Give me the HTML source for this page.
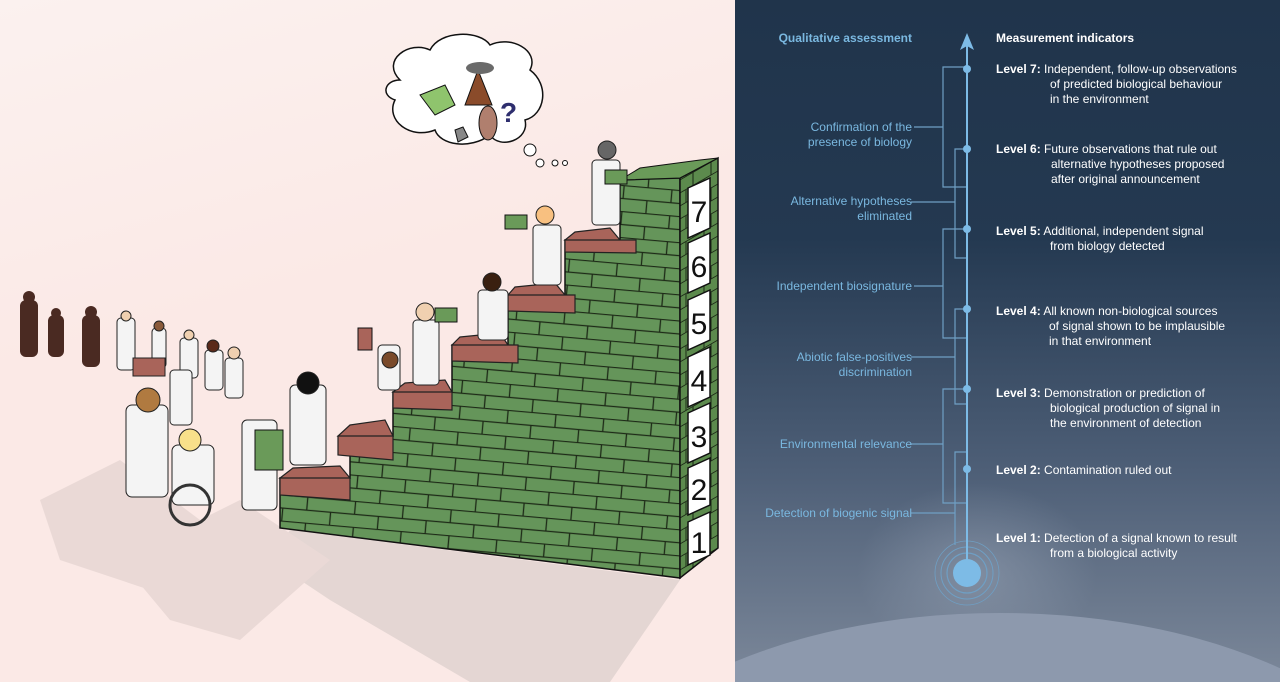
<!DOCTYPE html>
<html><head><meta charset="utf-8"><style>
html,body{margin:0;padding:0;width:1280px;height:682px;overflow:hidden;background:#fff}
svg{display:block;position:absolute;left:0;top:0}
text{font-family:"Liberation Sans",sans-serif}
</style></head><body>
<svg width="1280" height="682" viewBox="0 0 1280 682" xmlns="http://www.w3.org/2000/svg" overflow="hidden">
<defs>
<clipPath id="rc"><rect x="735" y="0" width="545" height="682"/></clipPath>
<clipPath id="lc"><rect x="0" y="0" width="735" height="682"/></clipPath>
<linearGradient id="lbg" x1="0" y1="0" x2="0.3" y2="1">
<stop offset="0" stop-color="#fbf1ef"/><stop offset="0.5" stop-color="#fbe9e6"/><stop offset="1" stop-color="#fbe9e6"/>
</linearGradient>
<linearGradient id="rbg" x1="0" y1="0" x2="0" y2="1">
<stop offset="0" stop-color="#20344b"/><stop offset="0.35" stop-color="#243951"/><stop offset="0.7" stop-color="#4f6078"/><stop offset="1" stop-color="#7c889a"/>
</linearGradient>
<radialGradient id="glow" cx="0.5" cy="0.5" r="0.5">
<stop offset="0" stop-color="#9aa6b8" stop-opacity="0.5"/><stop offset="1" stop-color="#9aa6b8" stop-opacity="0"/>
</radialGradient>
<pattern id="brick" width="48" height="26" patternUnits="userSpaceOnUse" patternTransform="rotate(5)">
<rect width="48" height="26" fill="#65955a"/>
<path d="M0 0.5H48M0 13.5H48M14 0V13M38 13V26" stroke="#1d2a17" stroke-width="1.3" fill="none"/>
</pattern>
<pattern id="brickS" width="18" height="26" patternUnits="userSpaceOnUse" patternTransform="skewY(-30)">
<rect width="18" height="26" fill="#5c8a4d"/>
<path d="M0 0.5H18M0 13.5H18M9 0V13M2 13V26" stroke="#1d2a17" stroke-width="1" fill="none"/>
</pattern>
</defs>
<g clip-path="url(#lc)">
<rect x="0" y="0" width="735" height="682" fill="url(#lbg)"/>
<path d="M290 530 L680 580 L610 682 L470 682 L330 600 L270 560Z" fill="#e4d6d3"/>
<path d="M40 500 L120 460 L200 520 L150 590 L60 560Z M120 560 L240 500 L330 560 L240 640 L170 620Z" fill="#ead9d6"/>
<path d="M280 478 L350 478 L350 436 L393 436 L393 392 L452 392 L452 345 L508 345 L508 295 L565 295 L565 240 L620 240 L620 180 L680 178 L680 578 L280 528Z" fill="url(#brick)" stroke="#111" stroke-width="1.5"/>
<path d="M680 178 L718 158 L718 548 L680 578Z" fill="url(#brickS)" stroke="#111" stroke-width="1.5"/>
<g fill="#a9645a" stroke="#222" stroke-width="1.2">
<path d="M280 478 L350 478 L350 500 L280 495Z M293 468 L340 466 L350 478 L280 478Z"/>
<path d="M338 436 L393 436 L393 460 L338 455Z M350 425 L385 420 L393 436 L338 436Z"/>
<path d="M393 392 L452 392 L452 410 L393 408Z M405 383 L445 380 L452 392 L393 392Z"/>
<path d="M452 345 L518 345 L518 363 L452 361Z M460 337 L500 333 L508 345 L452 345Z"/>
<path d="M508 295 L575 295 L575 313 L508 311Z M515 287 L555 283 L565 295 L508 295Z"/>
<path d="M565 240 L636 240 L636 253 L565 252Z M575 232 L610 228 L620 240 L565 240Z"/>
</g>
<path d="M620 180 L640 168 L700 160 L718 158 L680 178Z" fill="#6a9a59" stroke="#111"/>
<g fill="#fff" stroke="#111" stroke-width="1.5">
<polygon points="688,188 710,178 710,228 688,238"/>
<polygon points="688,243 710,233 710,283 688,293"/>
<polygon points="688,300 710,290 710,340 688,350"/>
<polygon points="688,357 710,347 710,397 688,407"/>
<polygon points="688,413 710,403 710,453 688,463"/>
<polygon points="688,468 710,458 710,505 688,515"/>
<polygon points="688,522 710,512 710,555 688,565"/>
</g>
<g font-size="30" fill="#111" text-anchor="middle" font-family="Liberation Serif">
<text x="699" y="222">7</text><text x="699" y="277">6</text><text x="699" y="334">5</text><text x="699" y="391">4</text><text x="699" y="447">3</text><text x="699" y="500">2</text><text x="699" y="553">1</text>
</g>
<path d="M400 80 C380 60 410 40 430 50 C440 30 480 30 490 45 C510 35 540 50 530 70 C550 85 545 115 525 120 C530 140 500 150 490 135 C470 150 440 145 435 130 C410 140 385 120 395 100 C380 95 385 80 400 80Z" fill="#fff" stroke="#111" stroke-width="1.5"/>
<circle cx="530" cy="150" r="6" fill="#fff" stroke="#111"/><circle cx="540" cy="163" r="4" fill="#fff" stroke="#111"/><circle cx="555" cy="163" r="3" fill="#fff" stroke="#111"/><circle cx="565" cy="163" r="2.5" fill="#fff" stroke="#111"/>
<path d="M420 95 L445 85 L455 105 L435 115Z" fill="#8fc46d" stroke="#111"/>
<path d="M465 105 L478 70 L492 105Z" fill="#8a4b2a" stroke="#111"/>
<ellipse cx="480" cy="68" rx="14" ry="6" fill="#6a6a6a"/>
<ellipse cx="488" cy="123" rx="9" ry="17" fill="#b07f6e" stroke="#111"/>
<path d="M455 130 L463 127 L468 137 L458 142Z" fill="#888" stroke="#111"/>
<text x="500" y="122" font-size="28" font-weight="bold" fill="#2e2e6e">?</text>
<g fill="#4a2a22">
<rect x="20" y="300" width="18" height="57" rx="6"/><circle cx="29" cy="297" r="6"/>
<rect x="48" y="315" width="16" height="42" rx="6"/><circle cx="56" cy="313" r="5"/>
<rect x="82" y="315" width="18" height="52" rx="6"/><circle cx="91" cy="312" r="6"/>
</g>
<g fill="#f4f4f4" stroke="#222" stroke-width="1">
<rect x="117" y="318" width="18" height="52" rx="4"/><circle cx="126" cy="316" r="5" fill="#f0d0b0"/>
<rect x="152" y="328" width="14" height="40" rx="4"/><circle cx="159" cy="326" r="5" fill="#8a5a3a"/>
<rect x="180" y="338" width="18" height="40" rx="4"/><circle cx="189" cy="335" r="5" fill="#f0d0b0"/>
<rect x="205" y="350" width="18" height="40" rx="4"/><circle cx="213" cy="346" r="6" fill="#5a2a1a"/>
<rect x="225" y="358" width="18" height="40" rx="4"/><circle cx="234" cy="353" r="6" fill="#f0d0b0"/>
<rect x="170" y="370" width="22" height="55" rx="4"/>
<rect x="126" y="405" width="42" height="92" rx="6"/><circle cx="148" cy="400" r="12" fill="#b07a40"/>
<rect x="133" y="358" width="32" height="18" fill="#a9645a"/>
<rect x="172" y="445" width="42" height="60" rx="6"/><circle cx="190" cy="440" r="11" fill="#f8e08a"/>
<rect x="242" y="420" width="35" height="90" rx="5"/>
<rect x="290" y="385" width="36" height="80" rx="5"/><circle cx="308" cy="383" r="11" fill="#111"/>
<rect x="378" y="345" width="22" height="45" rx="4"/><circle cx="390" cy="360" r="8" fill="#7a4a2a"/>
<rect x="413" y="320" width="26" height="65" rx="4"/><circle cx="425" cy="312" r="9" fill="#f0d0b0"/>
<rect x="478" y="290" width="30" height="50" rx="4"/><circle cx="492" cy="282" r="9" fill="#3a2010"/>
<rect x="533" y="225" width="28" height="60" rx="4"/><circle cx="545" cy="215" r="9" fill="#f8c080"/>
<rect x="592" y="160" width="28" height="65" rx="4"/><circle cx="607" cy="150" r="9" fill="#666"/>
</g>
<circle cx="190" cy="505" r="20" fill="none" stroke="#333" stroke-width="3"/>
<g fill="#6a9a59" stroke="#111"><rect x="255" y="430" width="28" height="40"/><rect x="505" y="215" width="22" height="14"/><rect x="605" y="170" width="22" height="14"/><rect x="435" y="308" width="22" height="14"/></g>
<rect x="358" y="328" width="14" height="22" fill="#a9645a" stroke="#111"/>
</g>

<g clip-path="url(#rc)">
<rect x="735" y="0" width="545" height="682" fill="url(#rbg)"/>
<ellipse cx="977" cy="573" rx="120" ry="90" fill="url(#glow)"/>
<ellipse cx="1000" cy="830" rx="420" ry="217" fill="#8d99ad"/>
</g>
<g stroke="#6f9fc4" stroke-width="1.2" fill="none">
<path d="M967 67 H943 V187 H967 M914 127 H943"/>
<path d="M967 149 H955 V258 H967 M911 202 H955"/>
<path d="M967 229 H943 V338 H967 M914 286 H943"/>
<path d="M967 309 H955 V404 H967 M911 357 H955"/>
<path d="M967 389 H943 V503 H967 M911 444 H943"/>
<path d="M967 452 H955 V545 M911 513 H955"/>
<circle cx="967" cy="573" r="20"/><circle cx="967" cy="573" r="26" stroke-width="1"/><circle cx="967" cy="573" r="32" stroke-width="0.8"/>
</g>
<line x1="967" y1="45" x2="967" y2="573" stroke="#7dbbe6" stroke-width="2"/>
<path d="M967 33 L960 50 L967 46 L974 50Z" fill="#7dbbe6"/>
<g fill="#7dbbe6"><circle cx="967" cy="69" r="4"/><circle cx="967" cy="149" r="4"/><circle cx="967" cy="229" r="4"/><circle cx="967" cy="309" r="4"/><circle cx="967" cy="389" r="4"/><circle cx="967" cy="469" r="4"/><circle cx="967" cy="573" r="14"/></g>
<g font-size="12" fill="#7ab8e0" text-anchor="end">
<text x="912" y="42" font-weight="bold">Qualitative assessment</text>
<text x="912" y="131">Confirmation of the</text><text x="912" y="146">presence of biology</text>
<text x="912" y="205">Alternative hypotheses</text><text x="912" y="220">eliminated</text>
<text x="912" y="290">Independent biosignature</text>
<text x="912" y="361">Abiotic false-positives</text><text x="912" y="376">discrimination</text>
<text x="912" y="448">Environmental relevance</text>
<text x="912" y="517">Detection of biogenic signal</text>
</g>
<g font-size="12" fill="#fff">
<text x="996" y="42" font-weight="bold">Measurement indicators</text>
<text x="996" y="73"><tspan font-weight="bold">Level 7:</tspan> Independent, follow-up observations</text><text x="1050" y="88">of predicted biological behaviour</text><text x="1050" y="103">in the environment</text>
<text x="996" y="153"><tspan font-weight="bold">Level 6:</tspan> Future observations that rule out</text><text x="1051" y="168">alternative hypotheses proposed</text><text x="1051" y="183">after original announcement</text>
<text x="996" y="235"><tspan font-weight="bold">Level 5:</tspan> Additional, independent signal</text><text x="1050" y="250">from biology detected</text>
<text x="996" y="315"><tspan font-weight="bold">Level 4:</tspan> All known non-biological sources</text><text x="1049" y="330">of signal shown to be implausible</text><text x="1049" y="345">in that environment</text>
<text x="996" y="397"><tspan font-weight="bold">Level 3:</tspan> Demonstration or prediction of</text><text x="1050" y="412">biological production of signal in</text><text x="1050" y="427">the environment of detection</text>
<text x="996" y="474"><tspan font-weight="bold">Level 2:</tspan> Contamination ruled out</text>
<text x="996" y="542"><tspan font-weight="bold">Level 1:</tspan> Detection of a signal known to result</text><text x="1050" y="557">from a biological activity</text>
</g>
</svg>
</body></html>
